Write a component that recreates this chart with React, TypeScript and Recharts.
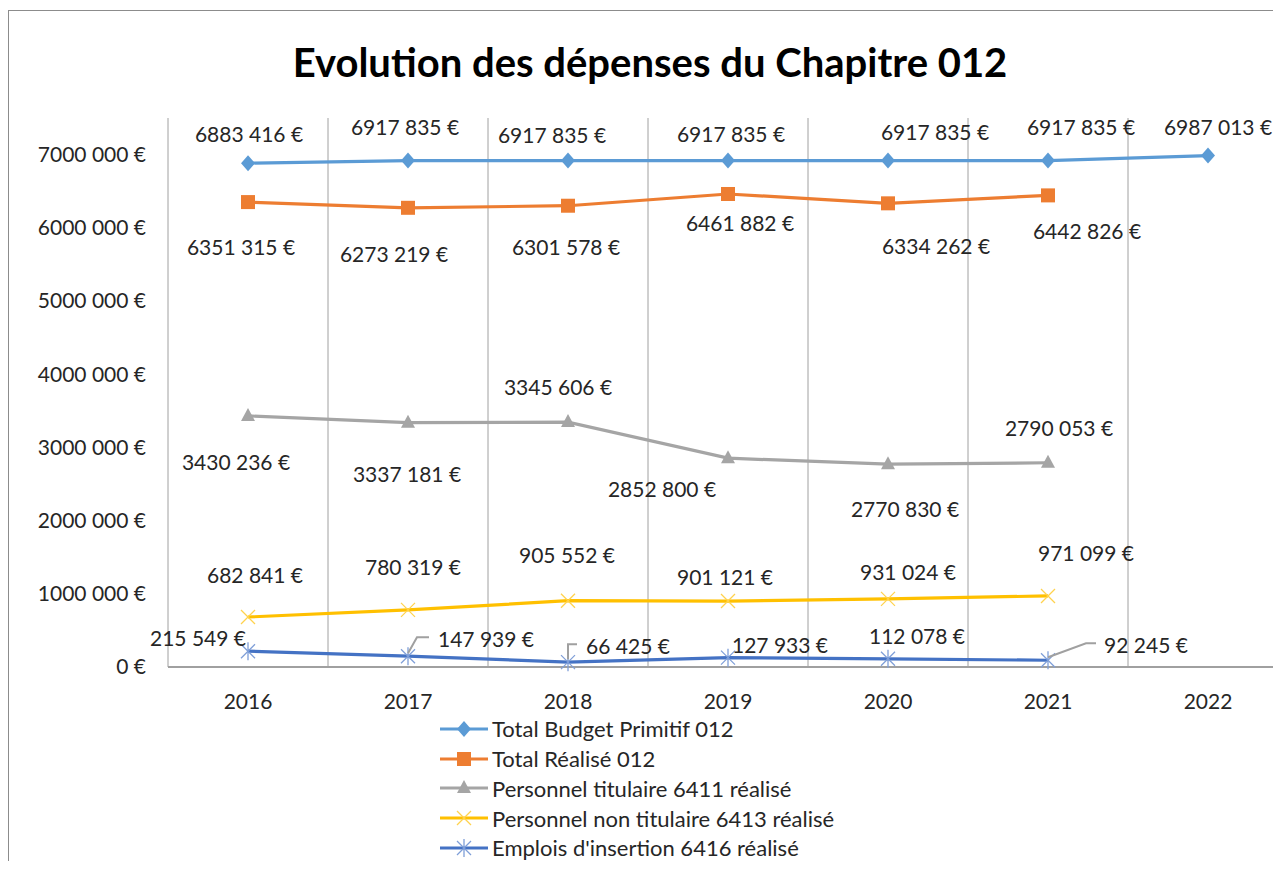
import React from "react";
import { CartesianGrid, LabelList, Legend, Line, LineChart, XAxis, YAxis } from "recharts";

const years = ["2016", "2017", "2018", "2019", "2020", "2021", "2022"];
const budgetPrimitif = [6883416, 6917835, 6917835, 6917835, 6917835, 6917835, 6987013];
const totalRealise = [6351315, 6273219, 6301578, 6461882, 6334262, 6442826, null];
const titulaire = [3430236, 3337181, 3345606, 2852800, 2770830, 2790053, null];
const nonTitulaire = [682841, 780319, 905552, 901121, 931024, 971099, null];
const insertion = [215549, 147939, 66425, 127933, 112078, 92245, null];
const yTicks = [0, 1000000, 2000000, 3000000, 4000000, 5000000, 6000000, 7000000];

// label placement (dx, dy from the point), kept apart from the values
const budgetLabelPos = [[1, -29], [-3, -33], [-16, -25], [3, -26], [47, -28], [33, -33], [10, -28]];
const realiseLabelPos = [[-7, 45], [-14, 47], [-2, 42], [12, 29], [48, 43], [39, 36]];
const titulaireLabelPos = [[-12, 47], [-1, 52], [-10, -35], [-66, 31], [17, 45], [11, -34]];
const nonTitulaireLabelPos = [[7, -42], [5, -42], [-1, -45], [-3, -24], [20, -26], [38, -42]];
const insertionLabelPos = [[-50, -13], [78, -17], [60, -16], [52, -12], [29, -22], [98, -15]];
// leader lines: [elbow dx, end dx] or null
const insertionLeaders = [null, [9, 21], [0, 9], null, null, [38, 48]];

const data = years.map((year, i) => ({
  year,
  budget: budgetPrimitif[i],
  realise: totalRealise[i],
  titulaire: titulaire[i],
  nonTitulaire: nonTitulaire[i],
  insertion: insertion[i],
}));

const FONT = "Lato, 'Noto Sans', sans-serif";
const TEXT = "#262626";
const GRID = "#A0A0A0";

const series = [
  { key: "budget", name: "Total Budget Primitif 012", color: "#5B9BD5", marker: "diamond", pos: budgetLabelPos },
  { key: "realise", name: "Total Réalisé 012", color: "#ED7D31", marker: "square", pos: realiseLabelPos },
  { key: "titulaire", name: "Personnel titulaire 6411 réalisé", color: "#A5A5A5", marker: "triangle", pos: titulaireLabelPos },
  { key: "nonTitulaire", name: "Personnel non titulaire 6413 réalisé", color: "#FFC000", marker: "x", pos: nonTitulaireLabelPos },
  { key: "insertion", name: "Emplois d'insertion 6416 réalisé", color: "#4472C4", marker: "star", pos: insertionLabelPos },
];

const euro = (v: number) => {
  const s = String(Math.round(v));
  return s.length > 3 ? `${s.slice(0, -3)} ${s.slice(-3)} €` : `${s} €`;
};

function Marker({ shape, cx, cy, color }: { shape: string; cx: number; cy: number; color: string }) {
  if (shape === "diamond") {
    return <polygon points={`${cx},${cy - 8} ${cx + 7},${cy} ${cx},${cy + 8} ${cx - 7},${cy}`} fill={color} />;
  }
  if (shape === "square") {
    return <rect x={cx - 7} y={cy - 7} width={14} height={14} fill={color} />;
  }
  if (shape === "triangle") {
    return <polygon points={`${cx},${cy - 8} ${cx + 7},${cy + 5} ${cx - 7},${cy + 5}`} fill={color} />;
  }
  if (shape === "x") {
    return (
      <g stroke="#FFD24D" strokeWidth={1.3}>
        <line x1={cx - 7} y1={cy - 7} x2={cx + 7} y2={cy + 7} />
        <line x1={cx - 7} y1={cy + 7} x2={cx + 7} y2={cy - 7} />
      </g>
    );
  }
  return (
    <g stroke="#7E9ED8" strokeWidth={1.3}>
      <line x1={cx - 7} y1={cy - 7} x2={cx + 7} y2={cy + 7} />
      <line x1={cx - 7} y1={cy + 7} x2={cx + 7} y2={cy - 7} />
      <line x1={cx} y1={cy - 9} x2={cx} y2={cy + 9} />
    </g>
  );
}

function makeDot(shape: string, color: string) {
  return (p: any) => {
    if (p.cy == null || p.cx == null || p.value == null) return <g key={`d-${p.index}`} />;
    return <Marker key={`d-${p.index}`} shape={shape} cx={p.cx} cy={p.cy} color={color} />;
  };
}

function makeLabel(pos: number[][], leaders?: (number[] | null)[]) {
  return (p: any) => {
    const vb = p.viewBox || {};
    const x = p.x ?? vb.x;
    const y = p.y ?? vb.y;
    if (p.value == null || x == null || y == null) return null;
    const [dx, dy] = pos[p.index] || [0, -20];
    const lead = leaders ? leaders[p.index] : null;
    return (
      <g>
        {lead && (
          <polyline
            points={`${x},${y - 3} ${x + lead[0]},${y + dy - 2} ${x + lead[1]},${y + dy - 2}`}
            fill="none"
            stroke={GRID}
            strokeWidth={2}
          />
        )}
        <text x={x + dx} y={y + dy} dy="0.36em" textAnchor="middle" fontFamily={FONT} fontSize={21} fill={TEXT}>
          {euro(p.value)}
        </text>
      </g>
    );
  };
}

function LegendBox() {
  return (
    <div style={{ fontFamily: FONT, fontSize: 22, color: TEXT }}>
      {series.map((s) => (
        <div key={s.key} style={{ display: "flex", alignItems: "center", height: 29.75, whiteSpace: "nowrap" }}>
          <svg width={52} height={22} style={{ flex: "none" }}>
            <line x1={0} y1={11} x2={48} y2={11} stroke={s.color} strokeWidth={3} />
            <Marker shape={s.marker} cx={24} cy={11} color={s.color} />
          </svg>
          <span>{s.name}</span>
        </div>
      ))}
    </div>
  );
}

export default function App() {
  return (
    <div style={{ position: "relative", width: 1273, height: 853, overflow: "hidden", background: "#fff" }}>
      <div
        style={{
          position: "absolute",
          left: 0,
          top: 2,
          width: 1400,
          height: 1000,
          borderLeft: "1px solid #8c8c8c",
          borderTop: "1px solid #8c8c8c",
        }}
      />
      <div
        style={{
          position: "absolute",
          top: 33,
          left: 0,
          width: 1284,
          textAlign: "center",
          fontFamily: FONT,
          fontWeight: 700,
          fontSize: 40,
          lineHeight: "42px",
          color: "#000",
        }}
      >
        Evolution des dépenses du Chapitre 012
      </div>
      <div style={{ position: "absolute", left: 0, top: 0 }}>
        <LineChart width={1300} height={853} data={data} margin={{ top: 110, right: 20, left: 10, bottom: 154 }}>
          <CartesianGrid
            horizontal={false}
            stroke={GRID}
            verticalCoordinatesGenerator={({ offset }: any) =>
              Array.from({ length: years.length + 1 }, (_, i) => offset.left + (i * offset.width) / years.length)
            }
          />
          <XAxis
            dataKey="year"
            scale="band"
            interval={0}
            height={40}
            axisLine={{ stroke: GRID, strokeWidth: 2 }}
            tickLine={false}
            tickSize={0}
            tickMargin={27}
            tick={{ fill: TEXT, fontSize: 21, fontFamily: FONT }}
          />
          <YAxis
            width={150}
            domain={[0, 7500000]}
            ticks={yTicks}
            tickFormatter={euro}
            axisLine={false}
            tickLine={false}
            tickSize={0}
            tickMargin={22}
            tick={{ fill: TEXT, fontSize: 21, fontFamily: FONT }}
          />
          <Legend
            layout="vertical"
            align="center"
            verticalAlign="middle"
            wrapperStyle={{ top: 706, left: 432, width: "auto" }}
            content={() => <LegendBox />}
          />
          {series.map((s) => (
            <Line
              key={s.key}
              dataKey={s.key}
              name={s.name}
              type="linear"
              stroke={s.color}
              strokeWidth={3.2}
              dot={makeDot(s.marker, s.color)}
              activeDot={false}
              isAnimationActive={false}
            >
              <LabelList
                dataKey={s.key}
                content={makeLabel(s.pos, s.key === "insertion" ? insertionLeaders : undefined)}
              />
            </Line>
          ))}
        </LineChart>
      </div>
    </div>
  );
}
